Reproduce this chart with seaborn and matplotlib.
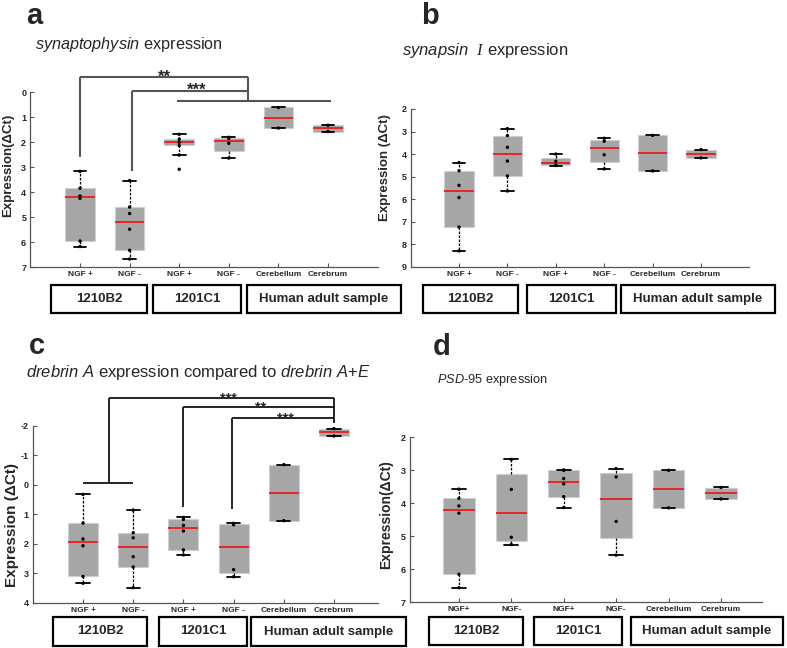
import numpy as np
import pandas as pd
import matplotlib
matplotlib.use("Agg")
import matplotlib.pyplot as plt
import seaborn as sns
from matplotlib.patches import Rectangle

# ---------------- data ----------------
positions = [1, 2, 3, 4, 5, 6]
labels_abc = ["NGF +", "NGF -", "NGF +", "NGF -", "Cerebellum", "Cerebrum"]
labels_d = ["NGF+", "NGF-", "NGF+", "NGF-", "Cerebellum", "Cerebrum"]
groups = ["1210B2", "1201C1", "Human adult sample"]

# panel a: synaptophysin
a_whislo = [3.16, 3.53, 1.68, 1.79, 0.60, 1.31]
a_q1 = [3.84, 4.59, 1.88, 1.81, 0.60, 1.31]
a_med = [4.20, 5.17, 1.97, 1.95, 1.03, 1.44]
a_q3 = [5.95, 6.32, 2.12, 2.33, 1.43, 1.59]
a_whishi = [6.17, 6.67, 2.51, 2.63, 1.43, 1.59]
a_pts = [[3.16, 3.84, 4.15, 4.24, 5.95, 6.17],
         [3.53, 4.59, 4.85, 5.48, 6.32, 6.67],
         [1.68, 1.88, 2.01, 2.13, 2.51, 3.08],
         [1.80, 1.84, 2.04, 2.63],
         [0.61, 1.43],
         [1.32, 1.57]]

# panel b: synapsin I
b_whislo = [4.38, 2.87, 4.00, 3.30, 3.17, 3.80]
b_q1 = [4.75, 3.18, 4.17, 3.38, 3.17, 3.80]
b_med = [5.65, 4.00, 4.40, 3.73, 3.95, 3.98]
b_q3 = [7.25, 4.99, 4.50, 4.35, 4.75, 4.18]
b_whishi = [8.30, 5.64, 4.53, 4.66, 4.75, 4.18]
b_pts = [[4.38, 4.74, 5.39, 5.93, 7.24, 8.30],
         [2.87, 3.18, 3.70, 4.31, 4.97, 5.64],
         [4.00, 4.32, 4.49, 4.51],
         [3.30, 3.43, 4.03, 4.66],
         [3.17, 4.75],
         [3.80, 4.17]]

# panel c: drebrin A
c_whislo = [0.33, 0.86, 1.11, 1.31, -0.68, -1.90]
c_q1 = [1.29, 1.63, 1.16, 1.33, -0.68, -1.89]
c_med = [1.95, 2.10, 1.48, 2.10, 0.27, -1.77]
c_q3 = [3.11, 2.79, 2.21, 2.99, 1.22, -1.66]
c_whishi = [3.34, 3.49, 2.38, 3.12, 1.22, -1.65]
c_pts = [[0.33, 1.30, 1.84, 2.07, 3.11, 3.34],
         [0.86, 1.63, 1.80, 2.44, 2.79, 3.49],
         [1.11, 1.18, 1.38, 1.57, 2.21, 2.38],
         [1.31, 1.36, 2.88, 3.12],
         [-0.68, 1.22],
         [-1.90, -1.65]]

# panel d: PSD-95
d_whislo = [3.57, 2.67, 2.99, 2.95, 3.00, 3.52]
d_q1 = [3.85, 3.11, 3.00, 3.07, 3.00, 3.53]
d_med = [4.20, 4.29, 3.34, 3.87, 3.58, 3.69]
d_q3 = [6.15, 5.14, 3.81, 5.04, 4.14, 3.88]
d_whishi = [6.56, 5.25, 4.13, 5.57, 4.14, 3.88]
d_pts = [[3.57, 3.85, 4.08, 4.30, 6.15, 6.56],
         [2.67, 3.58, 5.03, 5.25],
         [2.99, 3.00, 3.25, 3.41, 3.80, 4.13],
         [2.95, 3.20, 4.55, 5.57],
         [3.00, 4.14],
         [3.52, 3.87]]

# ---------------- style ----------------
sns.set_theme(style="white")
plt.rcParams["font.family"] = ["Liberation Sans", "DejaVu Sans"]
plt.rcParams["mathtext.fontset"] = "custom"
plt.rcParams["mathtext.rm"] = "Liberation Sans"
plt.rcParams["mathtext.it"] = "Liberation Sans:italic"
plt.rcParams["mathtext.bf"] = "Liberation Sans:bold"
plt.rcParams["mathtext.cal"] = "Liberation Serif:italic"

W, H = 787, 648
fig = plt.figure(figsize=(W / 100, H / 100), dpi=100)


def fx(px):
    return px / W


def fy(py):
    return 1 - py / H


def add_ax(l, t, r, b):
    return fig.add_axes([fx(l), fy(b), (r - l) / W, (b - t) / H])


def draw_panel(ax, whislo, q1, med, q3, whishi, pts, xlim, ylim, yticks, xlabels):
    stats = []
    for i in range(len(positions)):
        stats.append(dict(whislo=whislo[i], q1=q1[i], med=med[i], q3=q3[i],
                          whishi=whishi[i], fliers=[]))
    ax.bxp(stats, positions=positions, widths=0.6, patch_artist=True,
           showfliers=False, capwidths=0.26,
           boxprops=dict(facecolor="#a6a6a6", edgecolor="#cfcfcf", linewidth=0.8),
           medianprops=dict(color="#e3262b", linewidth=1.4),
           whiskerprops=dict(color="black", linewidth=0.9, linestyle=(0, (2, 1.2))),
           capprops=dict(color="black", linewidth=1.3))
    rows = []
    for p, vals in zip(positions, pts):
        for v in vals:
            rows.append((p, v))
    df = pd.DataFrame(rows, columns=["pos", "val"])
    sns.scatterplot(data=df, x="pos", y="val", ax=ax, color="black", s=6,
                    edgecolor="none", zorder=5, legend=False)
    ax.set_xlim(*xlim)
    ax.set_ylim(*ylim)
    ax.set_yticks(yticks)
    ax.set_yticklabels([str(t) for t in yticks], fontsize=6.5, fontweight="bold")
    ax.set_xticks(positions)
    ax.set_xticklabels(xlabels, fontsize=6, fontweight="bold")
    ax.set_xlabel("")
    ax.set_ylabel("")
    for s in ["top", "right"]:
        ax.spines[s].set_visible(False)
    for s in ["left", "bottom"]:
        ax.spines[s].set_color("#555555")
        ax.spines[s].set_linewidth(0.9)
    ax.tick_params(axis="both", direction="in", length=3, width=0.8, color="#555555",
                   pad=3, left=True, bottom=True)
    ax.patch.set_alpha(0)


def stars(ax, x, y, s, size):
    ax.annotate(s, (x, y), xytext=(0, -3.2), textcoords="offset points",
                ha="center", va="baseline", fontsize=size, fontweight="bold",
                annotation_clip=False)


def group_boxes(boxes, y0, y1):
    for (x0, x1), name in zip(boxes, groups):
        fig.add_artist(Rectangle((fx(x0), fy(y1)), (x1 - x0) / W, (y1 - y0) / H,
                                 transform=fig.transFigure, fill=False,
                                 edgecolor="black", linewidth=1.6))
        fig.text(fx((x0 + x1) / 2), fy((y0 + y1) / 2), name, ha="center", va="center",
                 fontsize=9.5, fontweight="bold")


# ---------------- panel a ----------------
axa = add_ax(30.4, 92.3, 377.6, 267.3)
draw_panel(axa, a_whislo, a_q1, a_med, a_q3, a_whishi, a_pts, (0, 7), (7, 0),
           list(range(0, 8)), labels_abc)
bc = "#555555"
kw = dict(color=bc, linewidth=1.5, clip_on=False, solid_capstyle="butt")
axa.plot([1, 1], [2.57, -0.61], **kw)
axa.plot([1, 4.39], [-0.61, -0.61], **kw)
axa.plot([4.39, 4.39], [-0.61, 0.33], **kw)
axa.plot([2.05, 2.05], [3.13, -0.07], **kw)
axa.plot([2.05, 4.39], [-0.07, -0.07], **kw)
axa.plot([2.96, 6.06], [0.33, 0.33], **kw)
stars(axa, 2.71, -0.61, "**", 12)
stars(axa, 3.35, -0.07, "***", 12)

# ---------------- panel b ----------------
axb = add_ax(410.6, 109.0, 749.4, 266.7)
draw_panel(axb, b_whislo, b_q1, b_med, b_q3, b_whishi, b_pts, (0, 7), (9, 2),
           list(range(2, 10)), labels_abc)

# ---------------- panel c ----------------
axc = add_ax(32.8, 425.7, 378.2, 602.7)
draw_panel(axc, c_whislo, c_q1, c_med, c_q3, c_whishi, c_pts, (0, 6.88), (4, -2),
           list(range(-2, 5)), labels_abc)
kw = dict(color="black", linewidth=1.2, clip_on=False, solid_capstyle="butt")
axc.plot([1, 2], [-0.05, -0.05], **kw)
axc.plot([1.52, 1.52], [-0.05, -2.95], **kw)
axc.plot([1.52, 6.0], [-2.95, -2.95], **kw)
axc.plot([3.0, 3.0], [0.76, -2.62], **kw)
axc.plot([3.0, 6.0], [-2.62, -2.62], **kw)
axc.plot([3.97, 3.97], [0.84, -2.27], **kw)
axc.plot([3.97, 6.0], [-2.27, -2.27], **kw)
axc.plot([6.0, 6.0], [-2.95, -2.1], **kw)
stars(axc, 3.89, -2.95, "***", 10.5)
stars(axc, 4.53, -2.62, "**", 10.5)
stars(axc, 5.03, -2.27, "***", 10.5)

# ---------------- panel d ----------------
axd = add_ax(409.6, 437.3, 762.4, 602.3)
draw_panel(axd, d_whislo, d_q1, d_med, d_q3, d_whishi, d_pts, (0.06, 6.79), (7, 2),
           list(range(2, 8)), labels_d)

# ---------------- group boxes ----------------
group_boxes([(51, 147), (153, 241), (247, 401)], 285, 313)
group_boxes([(423, 518), (527, 616), (621, 775)], 285, 313)
group_boxes([(53, 147), (159, 247), (251, 406)], 617, 646)
group_boxes([(429, 523), (534, 622), (631, 783)], 617, 645)

# ---------------- labels ----------------
for (x, y, s) in [(34, 16, "a"), (430, 16, "b"), (37, 346, "c"), (442, 347, "d")]:
    fig.text(fx(x), fy(y), s, ha="center", va="center", fontsize=21, fontweight="bold")

fig.text(fx(35), fy(45), r"$\mathit{synaptophysin}$ expression", ha="left", va="center",
         fontsize=11.7)
fig.text(fx(402), fy(50), r"$\mathit{synapsin}\ \ \mathcal{I}$ expression", ha="left",
         va="center", fontsize=12)
fig.text(fx(198), fy(372),
         r"$\mathit{drebrin\ A}$ expression compared to $\mathit{drebrin\ A}$+$\mathit{E}$",
         ha="center", va="center", fontsize=12)
fig.text(fx(437), fy(380), r"$\mathit{PSD}$-$\mathit{95}$ expression", ha="left", va="center",
         fontsize=9.2)

fig.text(fx(8), fy(165), "Expression(ΔCt)", rotation=90, ha="center", va="center",
         fontsize=9.5, fontweight="bold")
fig.text(fx(385), fy(168), "Expression (ΔCt)", rotation=90, ha="center", va="center",
         fontsize=9.5, fontweight="bold")
fig.text(fx(12), fy(525), "Expression (ΔCt)", rotation=90, ha="center", va="center",
         fontsize=11, fontweight="bold")
fig.text(fx(386), fy(515), "Expression(ΔCt)", rotation=90, ha="center", va="center",
         fontsize=10, fontweight="bold")

fig.savefig("out.png", dpi=100)
